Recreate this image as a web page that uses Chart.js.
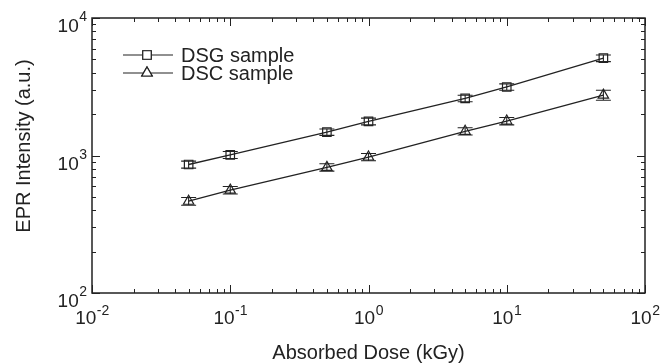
<!DOCTYPE html>
<html>
<head>
<meta charset="utf-8">
<script src="https://cdn.jsdelivr.net/npm/chart.js@4"></script>
<style>
  body { margin: 0; background: #fff; }
  canvas { display: block; }
</style>
</head>
<body>
<canvas id="grafica" width="663" height="363"></canvas>
<script>
// valores
const dosis = [0.05, 0.1, 0.5, 1, 5, 10, 50]
const dsg = [860, 1010, 1480, 1770, 2600, 3150, 5100]
const dsgErr = [50, 60, 80, 100, 140, 170, 280]
const dsc = [465, 560, 820, 975, 1500, 1780, 2750]
const dscErr = [30, 35, 50, 60, 90, 110, 230]

const xTicks = [0.01, 0.1, 1, 10, 100]
const xTickExp = ['-2', '-1', '0', '1', '2']
const yTicks = [100, 1000, 10000]
const yTickExp = ['2', '3', '4']

const serieNames = ['DSG sample', 'DSC sample']
const xTitle = 'Absorbed Dose (kGy)'
const yTitle = 'EPR Intensity (a.u.)'

const fuente = '"Liberation Sans", Arial, sans-serif'
const tinta = '#222'

const toXY = (ys) => dosis.map((d, i) => ({ x: d, y: ys[i] }))

// marco con marcas hacia dentro, etiquetas 10^n y titulos
const marco = {
    id: 'marco',
    afterDraw(chart) {
        const { ctx, chartArea: a, scales: { x, y } } = chart
        ctx.save()
        ctx.strokeStyle = tinta
        ctx.fillStyle = tinta
        ctx.lineWidth = 1.5
        ctx.strokeRect(a.left, a.top, a.right - a.left, a.bottom - a.top)

        ctx.lineWidth = 1
        ctx.beginPath()
        for (let e = -2; e < 2; e++) {
            for (let m = 1; m <= 10; m++) {
                const px = Math.round(x.getPixelForValue(m * Math.pow(10, e))) + 0.5
                const len = (m === 1 || m === 10) ? 8 : 4
                ctx.moveTo(px, a.bottom); ctx.lineTo(px, a.bottom - len)
                ctx.moveTo(px, a.top); ctx.lineTo(px, a.top + len)
            }
        }
        for (let e = 2; e < 4; e++) {
            for (let m = 1; m <= 10; m++) {
                const py = Math.round(y.getPixelForValue(m * Math.pow(10, e))) + 0.5
                const len = (m === 1 || m === 10) ? 8 : 4
                ctx.moveTo(a.left, py); ctx.lineTo(a.left + len, py)
                ctx.moveTo(a.right, py); ctx.lineTo(a.right - len, py)
            }
        }
        ctx.stroke()

        const base = '19px ' + fuente
        const sup = '14px ' + fuente
        ctx.textBaseline = 'alphabetic'
        xTicks.forEach((v, i) => {
            ctx.font = base
            const w1 = ctx.measureText('10').width
            ctx.font = sup
            const w2 = ctx.measureText(xTickExp[i]).width
            const px = x.getPixelForValue(v)
            const x0 = px - (w1 + w2) / 2
            ctx.textAlign = 'left'
            ctx.font = base
            ctx.fillText('10', x0, a.bottom + 31)
            ctx.font = sup
            ctx.fillText(xTickExp[i], x0 + w1 + 0.5, a.bottom + 22)
        })
        yTicks.forEach((v, i) => {
            const py = y.getPixelForValue(v)
            ctx.font = sup
            const w2 = ctx.measureText(yTickExp[i]).width
            ctx.textAlign = 'right'
            ctx.fillText(yTickExp[i], a.left - 5, py + 3)
            ctx.font = base
            ctx.fillText('10', a.left - 5 - w2 - 0.5, py + 14)
        })

        ctx.font = '20px ' + fuente
        ctx.textAlign = 'center'
        ctx.fillText(xTitle, (a.left + a.right) / 2, 359)
        ctx.save()
        ctx.translate(30, 146)
        ctx.rotate(-Math.PI / 2)
        ctx.fillText(yTitle, 0, 0)
        ctx.restore()

        // leyenda
        ctx.font = '20px ' + fuente
        ctx.textAlign = 'left'
        ctx.textBaseline = 'middle'
        chart.data.datasets.forEach((ds, i) => {
            const ly = 55 + i * 18
            ctx.lineWidth = 1.2
            ctx.beginPath()
            ctx.moveTo(123, ly); ctx.lineTo(173, ly)
            ctx.stroke()
            ctx.fillStyle = '#fff'
            ctx.lineWidth = 1.2
            Chart.helpers.drawPoint(ctx, { pointStyle: ds.pointStyle, radius: 6, borderWidth: 1.2 }, 147, ly)
            ctx.fill()
            ctx.stroke()
            ctx.fillStyle = tinta
            ctx.fillText(ds.label, 181, ly + 1)
        })
        ctx.restore()
    }
}

// barras de error con las escalas del grafico
const barras = {
    id: 'barras',
    afterDatasetsDraw(chart) {
        const { ctx, scales: { x, y } } = chart
        const errores = [dsgErr, dscErr]
        const valores = [dsg, dsc]
        ctx.save()
        ctx.strokeStyle = tinta
        ctx.lineWidth = 1.1
        ctx.beginPath()
        valores.forEach((serie, s) => {
            serie.forEach((v, i) => {
                const px = x.getPixelForValue(dosis[i])
                const hi = y.getPixelForValue(v + errores[s][i])
                const lo = y.getPixelForValue(v - errores[s][i])
                ctx.moveTo(px, hi); ctx.lineTo(px, lo)
                ctx.moveTo(px - 7.5, hi); ctx.lineTo(px + 7.5, hi)
                ctx.moveTo(px - 7.5, lo); ctx.lineTo(px + 7.5, lo)
            })
        })
        ctx.stroke()
        ctx.restore()
    }
}

const ctx = document.getElementById('grafica')

let grafico = new Chart(ctx, {
    type: 'scatter',
    data: {
        datasets: [{
            label: serieNames[0],
            data: toXY(dsg),
            showLine: true,
            borderColor: tinta,
            borderWidth: 1.3,
            pointStyle: 'rect',
            pointRadius: 6,
            pointBorderWidth: 1.2,
            pointBorderColor: tinta,
            pointBackgroundColor: 'rgba(0,0,0,0)'
        }, {
            label: serieNames[1],
            data: toXY(dsc),
            showLine: true,
            borderColor: tinta,
            borderWidth: 1.3,
            pointStyle: 'triangle',
            pointRadius: 6,
            pointBorderWidth: 1.2,
            pointBorderColor: tinta,
            pointBackgroundColor: 'rgba(0,0,0,0)'
        }]
    },
    options: {
        responsive: false,
        animation: false,
        devicePixelRatio: 1,
        layout: { padding: { left: 92, right: 18, top: 18, bottom: 70 } },
        plugins: { legend: { display: false }, tooltip: { enabled: false } },
        scales: {
            x: { type: 'logarithmic', min: 0.01, max: 100, display: false },
            y: { type: 'logarithmic', min: 100, max: 10000, display: false }
        }
    },
    plugins: [barras, marco]
})
</script>
</body>
</html>
